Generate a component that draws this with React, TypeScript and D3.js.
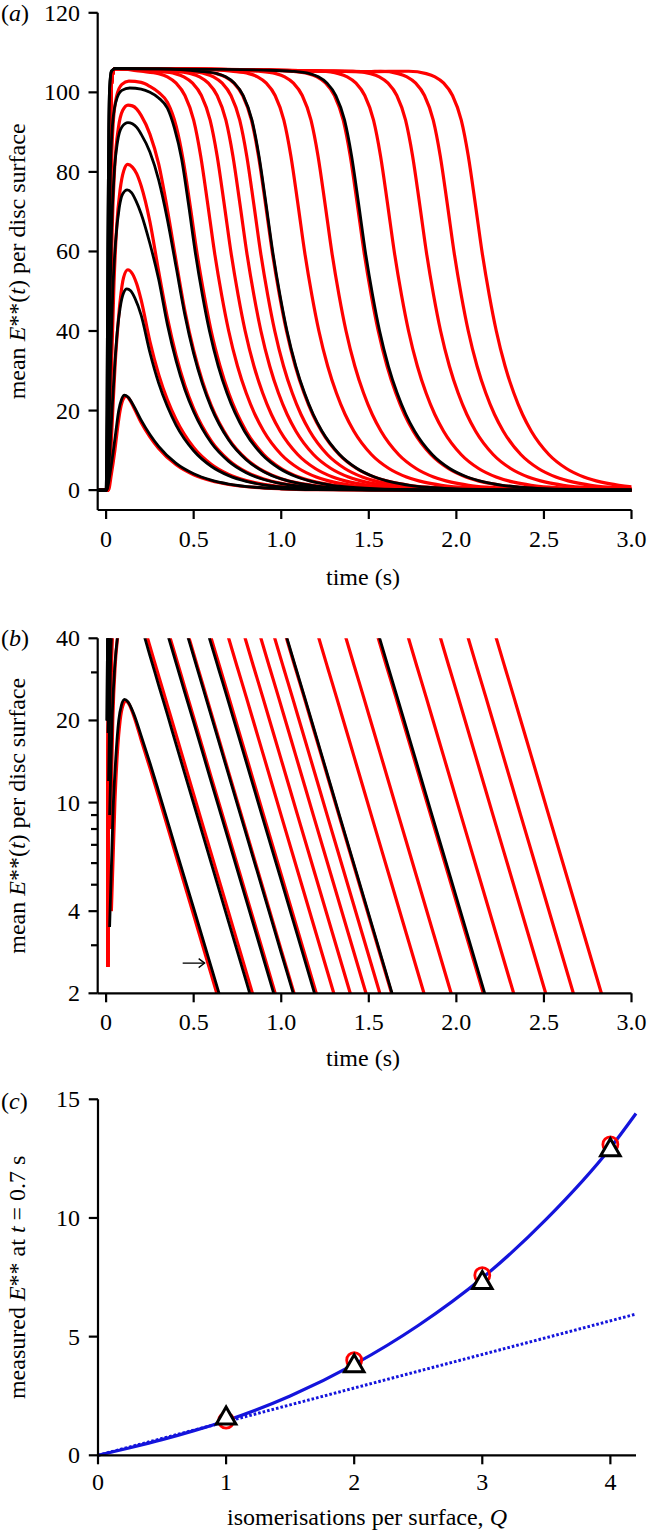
import React from 'react';
import * as d3 from 'd3';

type P = [number, number];

// ---------- axis ticks ----------
const timeTicks = [0, 0.5, 1.0, 1.5, 2.0, 2.5, 3.0];
const timeTickLabels = ['0', '0.5', '1.0', '1.5', '2.0', '2.5', '3.0'];
const linTicks = [0, 20, 40, 60, 80, 100, 120];
const logMajorTicks = [2, 4, 10, 20, 40];
const logMinorTicks = [3, 5, 6, 7, 8, 9, 30];
const qTicks = [0, 1, 2, 3, 4];
const cTicks = [0, 5, 10, 15];

// ---------- panel (a)/(b): curves below saturation, [time s, E**] ----------
const red1: P[] = [[-0.048,0],[0.013,0],[0.03,4],[0.05,10],[0.065,15.5],[0.08,20],[0.095,22.6],[0.114,23.6],[0.13,23.0],[0.16,20.6],[0.2,17.0],[0.25,13.4],[0.3,10.5],[0.4,6.37],[0.5,3.87],[0.6,2.35],[0.7,1.42],[0.85,0.67],[1.0,0.32],[1.2,0.117],[1.5,0.026],[2.0,0.0023],[3.0,0]];
const black1: P[] = [[-0.048,0],[0.004,0],[0.02,3.5],[0.04,9.5],[0.055,14.5],[0.072,20],[0.088,22.8],[0.105,23.9],[0.125,23.4],[0.16,21.0],[0.2,17.6],[0.25,14.0],[0.3,11.0],[0.4,6.7],[0.5,4.1],[0.6,2.5],[0.7,1.52],[0.85,0.72],[1.0,0.34],[1.2,0.124],[1.5,0.028],[2.0,0.0025],[3.0,0]];
const red2: P[] = [[-0.048,0],[0.012,0],[0.025,8],[0.038,20],[0.052,32],[0.065,40],[0.08,47.5],[0.1,53.5],[0.124,55.4],[0.15,54.4],[0.175,51.8],[0.2,47.8],[0.25,37.4],[0.3,29.1],[0.35,22.7],[0.4,17.7],[0.5,10.7],[0.6,6.5],[0.7,3.95],[0.8,2.39],[0.9,1.45],[1.0,0.88],[1.2,0.32],[1.5,0.072],[2.0,0.006],[3.0,0]];
const black2: P[] = [[-0.048,0],[0.004,0],[0.02,9],[0.035,21],[0.05,32],[0.065,40.5],[0.08,45.8],[0.1,49.6],[0.118,50.6],[0.14,50.1],[0.165,48.2],[0.2,44.0],[0.25,34.6],[0.3,26.9],[0.35,21.0],[0.4,16.3],[0.5,9.9],[0.6,6.0],[0.7,3.64],[0.8,2.21],[0.9,1.34],[1.0,0.81],[1.2,0.30],[1.5,0.067],[2.0,0.005],[3.0,0]];
const red3: P[] = [[-0.048,0],[0.01,0],[0.02,12],[0.03,30],[0.045,52],[0.06,66],[0.08,75.5],[0.1,80.2],[0.123,81.9],[0.15,81.2],[0.175,79.5],[0.2,76.5],[0.25,67.5],[0.3,55.0],[0.35,43.3],[0.4,33.8],[0.45,26.3],[0.5,20.5],[0.6,12.4],[0.7,7.55],[0.8,4.58],[0.9,2.78],[1.0,1.68],[1.1,1.02],[1.2,0.62],[1.4,0.23],[1.7,0.051],[2.0,0.011],[2.5,0.0009],[3.0,0]];
const black3: P[] = [[-0.048,0],[0.004,0],[0.014,12],[0.024,30],[0.038,50],[0.055,63],[0.075,71],[0.095,74.5],[0.12,75.5],[0.145,74.8],[0.17,72.8],[0.2,69.5],[0.25,62.0],[0.3,53.0],[0.35,41.6],[0.4,32.4],[0.45,25.2],[0.5,19.7],[0.6,11.9],[0.7,7.24],[0.8,4.39],[0.9,2.66],[1.0,1.61],[1.1,0.98],[1.2,0.59],[1.4,0.22],[1.7,0.049],[2.0,0.011],[2.5,0.0009],[3.0,0]];
const red4: P[] = [[-0.048,0],[0.008,0],[0.016,18],[0.024,42],[0.035,66],[0.05,82],[0.07,91],[0.095,95.5],[0.125,96.8],[0.15,96.6],[0.175,95.8],[0.2,94.2],[0.25,89.5],[0.3,82.0],[0.35,70.5],[0.4,57.5],[0.45,45.0],[0.5,35.1],[0.55,27.4],[0.6,21.3],[0.7,12.9],[0.8,7.84],[0.9,4.75],[1.0,2.88],[1.1,1.75],[1.2,1.06],[1.3,0.64],[1.5,0.24],[1.8,0.053],[2.1,0.012],[2.5,0.0016],[3.0,0]];
const black4: P[] = [[-0.048,0],[0.003,0],[0.011,18],[0.019,42],[0.03,64],[0.045,79],[0.065,87.5],[0.09,91.3],[0.125,92.4],[0.15,92.1],[0.175,91.2],[0.2,89.5],[0.25,85.0],[0.3,78.0],[0.35,68.0],[0.4,56.0],[0.45,44.0],[0.5,34.3],[0.55,26.7],[0.6,20.8],[0.7,12.6],[0.8,7.65],[0.9,4.64],[1.0,2.81],[1.1,1.71],[1.2,1.03],[1.3,0.63],[1.5,0.23],[1.8,0.052],[2.1,0.011],[2.5,0.0015],[3.0,0]];
const red5: P[] = [[-0.048,0],[0.007,0],[0.013,20],[0.02,52],[0.028,77],[0.04,92],[0.06,99],[0.09,102],[0.13,102.8],[0.2,102.5],[0.25,101.5],[0.3,100.0],[0.35,97.5],[0.4,91.5],[0.44,83.0],[0.48,71.5],[0.52,59.3],[0.56,49.0],[0.6,40.0],[0.65,31.3],[0.7,24.4],[0.8,14.8],[0.9,8.96],[1.0,5.44],[1.1,3.30],[1.2,2.0],[1.3,1.21],[1.4,0.74],[1.6,0.27],[1.9,0.06],[2.2,0.013],[2.6,0.0018],[3.0,0]];
const black5: P[] = [[-0.048,0],[0.002,0],[0.008,20],[0.015,52],[0.023,77],[0.035,91],[0.055,97.5],[0.09,100.5],[0.135,101.1],[0.2,100.8],[0.25,100.0],[0.3,98.6],[0.35,96.0],[0.39,91.0],[0.43,83.5],[0.47,72.0],[0.51,59.5],[0.55,49.0],[0.59,40.0],[0.64,31.2],[0.69,24.4],[0.79,14.8],[0.89,8.96],[0.99,5.44],[1.09,3.3],[1.19,2.0],[1.29,1.21],[1.39,0.74],[1.59,0.27],[1.89,0.06],[2.19,0.013],[2.6,0.0015],[3.0,0]];

// ---------- saturated curves: shared shape ----------
const redRise: P[] = [[-0.048,0],[0.006,0],[0.009,2.5],[0.012,12],[0.016,40],[0.02,75],[0.025,95],[0.032,103],[0.042,105.5]];
const blackRise: P[] = [[-0.048,0],[0,0],[0.005,20],[0.01,62],[0.015,90],[0.02,101],[0.03,105.3],[0.042,105.8]];
const plateauTimes = [0.05, 0.3, 0.6, 0.9, 1.2, 1.5];
const plateauLevels = [106.0, 105.9, 105.8, 105.6, 105.4, 105.2];
// fall-off relative to the time at which E** reaches 2
const fallOffsets = [-1.10,-1.00,-0.95,-0.90,-0.85,-0.80,-0.76,-0.72,-0.68,-0.64,-0.60,-0.55,-0.50,-0.45,-0.40,-0.30,-0.20,-0.10,0,0.10,0.20,0.30,0.40,0.50,0.65,0.80,1.00,1.30,1.70];
const fallLevels = [105.3,104.7,103.9,102.3,99.2,93.0,84.0,72.0,59.5,49.0,40.0,31.2,24.4,19.0,14.8,8.96,5.44,3.30,2.0,1.21,0.74,0.45,0.27,0.164,0.078,0.037,0.013,0.003,0.0004];
const redSatEnd = [1.30, 1.394, 1.484, 1.563, 1.63, 1.815, 1.97, 2.154, 2.327, 2.51, 2.668, 2.828];
const blackSatEnd = [1.633, 2.162];

// arrow annotation in panel (b): centre [time s, E**]
const arrowAt: P = [0.5, 2.58];

// ---------- panel (c) ----------
const qCurve = [0, 0.25, 0.5, 0.75, 1, 1.5, 2, 2.5, 3, 3.5, 4, 4.2];
const eCurve = [0, 0.32, 0.66, 1.04, 1.46, 2.50, 3.83, 5.47, 7.47, 9.95, 12.95, 14.4];
const qLinear = [0, 4.2];
const eLinear = [0, 5.95];
const markerQ = [1, 2, 3, 4];
const redMarkerE = [1.46, 4.01, 7.59, 13.1];
const blackMarkerE = [1.56, 3.76, 7.27, 12.86];

function buildSat(rise: P[], tEnd: number): P[] {
  const pts: P[] = rise.slice();
  plateauTimes.forEach((t, i) => {
    if (t > rise[rise.length - 1][0] && t < tEnd - 1.15) pts.push([t, plateauLevels[i]]);
  });
  fallOffsets.forEach((o, i) => pts.push([tEnd + o, fallLevels[i]]));
  return pts;
}

const FONT = '"Liberation Serif", "Times New Roman", Times, serif';
const RED = '#ff0000';
const BLUE = '#1414dc';

export default function App() {
  const xA = d3.scaleLinear().domain([-0.048, 3]).range([97.7, 631.5]);
  const yA = d3.scaleLinear().domain([-5, 120]).range([510, 12.8]);
  const yB = d3.scaleLog().domain([2, 40]).range([993.3, 638.3]);
  const xC = d3.scaleLinear().domain([0, 4.2]).range([98, 636]);
  const yC = d3.scaleLinear().domain([0, 15]).range([1455.3, 1099.3]);

  const reds: P[][] = [red1, red2, red3, red4, red5, ...redSatEnd.map(t => buildSat(redRise, t))];
  const blacks: P[][] = [black1, black2, black3, black4, black5, ...blackSatEnd.map(t => buildSat(blackRise, t))];

  const lineA = d3.line<P>().x(d => xA(d[0])).y(d => yA(d[1])).curve(d3.curveMonotoneX);
  const lineB = d3.line<P>().defined(d => d[1] > 0).x(d => xA(d[0])).y(d => yB(d[1])).curve(d3.curveMonotoneX);
  const blueLine = d3.line<number>().x((q) => xC(q)).y((_, i) => yC(eCurve[i])).curve(d3.curveMonotoneX);
  const dotLine = d3.line<number>().x((q) => xC(q)).y((_, i) => yC(eLinear[i]));
  const tri = d3.symbol().type(d3.symbolTriangle).size(165)();

  const axisStroke = { stroke: '#000', strokeWidth: 2.2, fill: 'none' } as const;
  const tickFont = { fontFamily: FONT, fontSize: 24, fill: '#000' } as const;

  const ax = xA(arrowAt[0]);
  const ay = yB(arrowAt[1]);

  const timeAxis = (y0: number, labelY: number, titleY: number) => (
    <g>
      <line x1={97.7} x2={xA(3)} y1={y0} y2={y0} {...axisStroke} />
      {timeTicks.map((t, i) => (
        <g key={i}>
          <line x1={xA(t)} x2={xA(t)} y1={y0} y2={y0 + 9} {...axisStroke} />
          <text x={xA(t)} y={labelY} textAnchor="middle" {...tickFont}>{timeTickLabels[i]}</text>
        </g>
      ))}
      <text x={363} y={titleY} textAnchor="middle" {...tickFont}>time (s)</text>
    </g>
  );

  const yLabelE = (cy: number) => (
    <text transform={`translate(25,${cy}) rotate(-90)`} textAnchor="middle" {...tickFont}>
      <tspan>mean </tspan><tspan fontStyle="italic">E</tspan><tspan>**(</tspan><tspan fontStyle="italic">t</tspan><tspan>) per disc surface</tspan>
    </text>
  );

  return (
    <svg width={647} height={1531} style={{ position: 'absolute', left: 0, top: 0, display: 'block', background: '#fff' }}>
      <defs>
        <clipPath id="clipA"><rect x={97.7} y={0} width={xA(3) - 97.7} height={510} /></clipPath>
        <clipPath id="clipB"><rect x={98.8} y={638.3} width={545} height={993.3 - 638.3} /></clipPath>
      </defs>
      <rect x={0} y={0} width={647} height={1531} fill="#fff" />

      {/* ---------- panel (a) ---------- */}
      <g clipPath="url(#clipA)">
        {reds.map((c, i) => <path key={'ra' + i} d={lineA(c) || ''} fill="none" stroke={RED} strokeWidth={3.2} />)}
        {blacks.map((c, i) => <path key={'ba' + i} d={lineA(c) || ''} fill="none" stroke="#000" strokeWidth={2.8} />)}
      </g>
      <line x1={97.7} x2={97.7} y1={yA(120)} y2={510} {...axisStroke} />
      {linTicks.map(v => (
        <g key={'la' + v}>
          <line x1={88.5} x2={97.7} y1={yA(v)} y2={yA(v)} {...axisStroke} />
          <text x={80} y={yA(v) + 8} textAnchor="end" {...tickFont}>{v}</text>
        </g>
      ))}
      {timeAxis(510, 547, 585)}
      {yLabelE((yA(120) + 510) / 2)}
      <text x={1} y={21} {...tickFont}>(<tspan fontStyle="italic">a</tspan>)</text>

      {/* ---------- panel (b) ---------- */}
      <g clipPath="url(#clipB)">
        {reds.map((c, i) => <path key={'rb' + i} d={lineB(c) || ''} fill="none" stroke={RED} strokeWidth={3.2} />)}
        {blacks.map((c, i) => <path key={'bb' + i} d={lineB(c) || ''} fill="none" stroke="#000" strokeWidth={2.8} />)}
      </g>
      <g stroke="#000" strokeWidth={1.3} fill="none">
        <line x1={ax - 11} x2={ax + 11} y1={ay} y2={ay} />
        <polyline points={`${ax + 5},${ay - 4.5} ${ax + 11},${ay} ${ax + 5},${ay + 4.5}`} />
      </g>
      <line x1={97.7} x2={97.7} y1={yB(40)} y2={yB(2)} {...axisStroke} />
      {logMajorTicks.map(v => (
        <g key={'lb' + v}>
          <line x1={88.5} x2={97.7} y1={yB(v)} y2={yB(v)} {...axisStroke} />
          <text x={80} y={yB(v) + 8} textAnchor="end" {...tickFont}>{v}</text>
        </g>
      ))}
      {logMinorTicks.map(v => (
        <line key={'mb' + v} x1={91} x2={97.7} y1={yB(v)} y2={yB(v)} {...axisStroke} />
      ))}
      {timeAxis(993.3, 1030, 1066)}
      {yLabelE((yB(40) + yB(2)) / 2)}
      <text x={1} y={646} {...tickFont}>(<tspan fontStyle="italic">b</tspan>)</text>

      {/* ---------- panel (c) ---------- */}
      <path d={dotLine(qLinear) || ''} fill="none" stroke={BLUE} strokeWidth={3} strokeDasharray="2.6,2" />
      <path d={blueLine(qCurve) || ''} fill="none" stroke={BLUE} strokeWidth={3.2} />
      {markerQ.map((q, i) => (
        <circle key={'rc' + i} cx={xC(q)} cy={yC(redMarkerE[i])} r={7.5} fill="none" stroke={RED} strokeWidth={2.8} />
      ))}
      {markerQ.map((q, i) => (
        <path key={'bt' + i} d={tri || ''} transform={`translate(${xC(q)},${yC(blackMarkerE[i])})`} fill="#fff" stroke="#000" strokeWidth={3} />
      ))}
      <line x1={98} x2={98} y1={yC(15)} y2={yC(0)} {...axisStroke} />
      <line x1={98} x2={636} y1={yC(0)} y2={yC(0)} {...axisStroke} />
      {cTicks.map(v => (
        <g key={'lc' + v}>
          <line x1={88.8} x2={98} y1={yC(v)} y2={yC(v)} {...axisStroke} />
          <text x={80} y={yC(v) + 8} textAnchor="end" {...tickFont}>{v}</text>
        </g>
      ))}
      {qTicks.map(q => (
        <g key={'qc' + q}>
          <line x1={xC(q)} x2={xC(q)} y1={yC(0)} y2={yC(0) + 9} {...axisStroke} />
          <text x={xC(q)} y={1490} textAnchor="middle" {...tickFont}>{q}</text>
        </g>
      ))}
      <text x={367} y={1525} textAnchor="middle" {...tickFont}>
        isomerisations per surface, <tspan fontStyle="italic">Q</tspan>
      </text>
      <text transform={`translate(25,${(yC(15) + yC(0)) / 2}) rotate(-90)`} textAnchor="middle" {...tickFont}>
        <tspan>measured </tspan><tspan fontStyle="italic">E</tspan><tspan>** at </tspan><tspan fontStyle="italic">t</tspan><tspan> = 0.7 s</tspan>
      </text>
      <text x={1} y={1109} {...tickFont}>(<tspan fontStyle="italic">c</tspan>)</text>
    </svg>
  );
}
